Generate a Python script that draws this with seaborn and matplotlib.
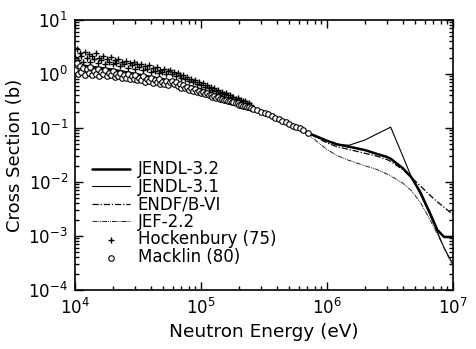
import numpy as np
import pandas as pd
import matplotlib
matplotlib.use("Agg")
import matplotlib.pyplot as plt
import seaborn as sns

# ---- evaluated data (common energy grid, eV) ----
energy_eval = [1e4, 2e4, 5e4, 1e5, 2e5, 4e5, 7e5, 1e6, 1.2e6, 1.5e6, 2e6, 2.5e6,
               3e6, 3.2e6, 4e6, 4.7e6, 5.5e6, 6.5e6, 7.5e6, 8.5e6, 1e7]
jendl32 = [1.5, 1.2, 0.8, 0.52, 0.3, 0.15, 0.082, 0.058, 0.05, 0.045, 0.039, 0.033,
           0.029, 0.027, 0.018, 0.012, 0.0065, 0.0028, 0.0013, 0.00096, 0.00095]
jendl31 = [1.5, 1.2, 0.8, 0.52, 0.3, 0.15, 0.082, 0.057, 0.049, 0.048, 0.06, 0.078,
           0.096, 0.104, 0.03, 0.012, 0.006, 0.0026, 0.0012, 0.0006, 0.00030]
endfb6 = [1.5, 1.2, 0.8, 0.52, 0.3, 0.15, 0.082, 0.053, 0.045, 0.04, 0.034, 0.03,
          0.026, 0.024, 0.017, 0.012, 0.0085, 0.0058, 0.0043, 0.0034, 0.0025]
jef22 = [1.5, 1.2, 0.8, 0.52, 0.3, 0.15, 0.078, 0.04, 0.031, 0.025, 0.02, 0.017,
         0.014, 0.013, 0.0095, 0.0068, 0.0042, 0.0021, 0.0011, 0.0006, 0.00027]

# ---- experimental data (energies in units of 1e4 eV) ----
hock_e4 = [1.00, 1.03, 1.06, 1.09, 1.12, 1.16, 1.20, 1.24, 1.28, 1.32,
           1.36, 1.41, 1.46, 1.51, 1.56, 1.61, 1.67, 1.73, 1.79, 1.85,
           1.92, 1.99, 2.06, 2.13, 2.21, 2.29, 2.37, 2.45, 2.54, 2.63,
           2.72, 2.82, 2.92, 3.02, 3.13, 3.24, 3.36, 3.48, 3.60, 3.73,
           3.86, 4.00, 4.14, 4.29, 4.44, 4.60, 4.76, 4.93, 5.11, 5.29,
           5.48, 5.68, 5.88, 6.09, 6.31, 6.53, 6.76, 7.00, 7.25, 7.51,
           7.78, 8.06, 8.35, 8.65, 8.96, 9.28, 9.61, 9.95, 10.3, 10.7,
           11.1, 11.5, 11.9, 12.3, 12.7, 13.2, 13.7, 14.2, 14.7, 15.2,
           15.7, 16.3, 16.9, 17.5, 18.1, 18.8, 19.5, 20.2, 20.9, 21.6,
           22.4, 23.2, 24.0, 25.0]
hock_xs = [2.1, 2.9, 1.8, 2.5, 2.2, 1.7, 2.6, 2.0, 2.3, 1.7,
           2.2, 1.9, 2.4, 1.6, 2.0, 1.8, 2.2, 1.5, 1.9, 1.7,
           2.1, 1.5, 1.8, 1.6, 1.9, 1.4, 1.7, 1.5, 1.75, 1.3,
           1.6, 1.45, 1.65, 1.25, 1.5, 1.35, 1.55, 1.2, 1.4, 1.25,
           1.45, 1.1, 1.3, 1.15, 1.35, 1.05, 1.2, 1.08, 1.25, 0.98,
           1.15, 1.2, 1.0, 1.1, 0.9, 1.05, 0.95, 0.85, 0.95, 0.8,
           0.88, 0.75, 0.82, 0.7, 0.76, 0.66, 0.72, 0.62, 0.67, 0.58,
           0.62, 0.55, 0.58, 0.51, 0.54, 0.48, 0.5, 0.45, 0.47, 0.42,
           0.44, 0.4, 0.41, 0.37, 0.38, 0.35, 0.36, 0.33, 0.33, 0.31,
           0.31, 0.29, 0.29, 0.27]
mack_e4 = [1.00, 1.03, 1.06, 1.09, 1.12, 1.16, 1.20, 1.24, 1.28, 1.32,
           1.36, 1.41, 1.46, 1.51, 1.56, 1.61, 1.67, 1.73, 1.79, 1.85,
           1.92, 1.99, 2.06, 2.13, 2.21, 2.29, 2.37, 2.45, 2.54, 2.63,
           2.72, 2.82, 2.92, 3.02, 3.13, 3.24, 3.36, 3.48, 3.60, 3.73,
           3.86, 4.00, 4.14, 4.29, 4.44, 4.60, 4.76, 4.93, 5.11, 5.29,
           5.48, 5.68, 5.88, 6.09, 6.31, 6.53, 6.76, 7.00, 7.25, 7.51,
           7.78, 8.06, 8.35, 8.65, 8.96, 9.28, 9.61, 9.95, 10.3, 10.7,
           11.1, 11.5, 11.9, 12.3, 12.7, 13.2, 13.7, 14.2, 14.7, 15.2,
           15.7, 16.3, 16.9, 17.5, 18.1, 18.8, 19.5, 20.2, 20.9, 21.6,
           22.4, 23.2, 24.0, 25.0, 26.0, 28.0, 30.0, 32.0, 34.0, 36.5,
           39.0, 41.5, 44.0, 47.0, 50.0, 53.5, 57.0, 61.0, 65.0, 71.0]
mack_xs = [1.2, 1.6, 1.0, 1.4, 1.1, 1.3, 0.95, 1.25, 1.05, 1.35,
           0.95, 1.15, 1.0, 1.25, 0.92, 1.1, 0.98, 1.2, 0.9, 1.05,
           0.95, 1.12, 0.88, 1.0, 0.9, 1.05, 0.84, 0.95, 0.86, 1.0,
           0.8, 0.9, 0.82, 0.95, 0.76, 0.85, 0.78, 0.9, 0.72, 0.8,
           0.74, 0.84, 0.68, 0.76, 0.7, 0.8, 0.64, 0.72, 0.66, 0.75,
           0.62, 0.7, 0.75, 0.64, 0.7, 0.6, 0.66, 0.56, 0.62, 0.54,
           0.58, 0.51, 0.55, 0.48, 0.52, 0.46, 0.49, 0.44, 0.46, 0.42,
           0.44, 0.4, 0.41, 0.38, 0.39, 0.36, 0.37, 0.345, 0.35, 0.33,
           0.335, 0.315, 0.32, 0.3, 0.3, 0.285, 0.285, 0.27, 0.27, 0.258,
           0.255, 0.245, 0.24, 0.232, 0.225, 0.212, 0.2, 0.19, 0.178, 0.166,
           0.155, 0.145, 0.137, 0.127, 0.118, 0.11, 0.106, 0.1, 0.092, 0.081]
assert len(hock_e4) == len(hock_xs) and len(mack_e4) == len(mack_xs)

x_ticks = [1e4, 1e5, 1e6, 1e7]
x_ticklabels = [r"$10^4$", r"$10^5$", r"$10^6$", r"$10^7$"]
y_ticks = [1e-4, 1e-3, 1e-2, 1e-1, 1e0, 1e1]
y_ticklabels = [r"$10^{-4}$", r"$10^{-3}$", r"$10^{-2}$", r"$10^{-1}$", r"$10^0$", r"$10^1$"]

sns.set_theme(style="ticks")
plt.rcParams["font.family"] = ["DejaVu Sans"]
plt.rcParams["mathtext.fontset"] = "dejavusans"
plt.rcParams["text.color"] = "black"
plt.rcParams["axes.labelcolor"] = "black"

fig = plt.figure(figsize=(4.77, 3.49), dpi=100)
ax = fig.add_axes([75 / 477, 1 - 290 / 349, 378 / 477, 270 / 349])

df = pd.DataFrame({"E": energy_eval, "JENDL-3.2": jendl32, "JENDL-3.1": jendl31,
                   "ENDF/B-VI": endfb6, "JEF-2.2": jef22})
hock = pd.DataFrame({"E": np.array(hock_e4) * 1e4, "xs": hock_xs})
mack = pd.DataFrame({"E": np.array(mack_e4) * 1e4, "xs": mack_xs})

sns.lineplot(data=df, x="E", y="JENDL-3.2", ax=ax, color="black", lw=1.8, label="JENDL-3.2", zorder=3)
sns.lineplot(data=df, x="E", y="JENDL-3.1", ax=ax, color="black", lw=0.8, label="JENDL-3.1", zorder=3)
sns.lineplot(data=df, x="E", y="ENDF/B-VI", ax=ax, color="black", lw=0.9, label="ENDF/B-VI", zorder=3)
sns.lineplot(data=df, x="E", y="JEF-2.2", ax=ax, color="#222222", lw=0.7, label="JEF-2.2", zorder=3)
lines = ax.get_lines()
lines[2].set_dashes((5, 1.5, 1, 1.5))
lines[3].set_dashes((5, 1, 1, 1, 1, 1))

sns.scatterplot(data=hock, x="E", y="xs", ax=ax, marker="+", color="black", s=24,
                linewidth=1.0, label="Hockenbury (75)", zorder=4)
sns.scatterplot(data=mack, x="E", y="xs", ax=ax, marker="o", facecolor="white",
                edgecolor="black", s=16, linewidth=0.8, label="Macklin (80)", zorder=5)

ax.set_xscale("log")
ax.set_yscale("log")
ax.set_xlim(1e4, 1e7)
ax.set_ylim(1e-4, 1e1)
ax.set_xticks(x_ticks)
ax.set_xticklabels(x_ticklabels)
ax.set_yticks(y_ticks)
ax.set_yticklabels(y_ticklabels)
ax.tick_params(which="both", direction="in", top=True, right=True, labelsize=12, width=1,
               colors="black")
ax.tick_params(which="major", length=6)
ax.tick_params(which="minor", length=3)
ax.tick_params(axis="x", which="major", pad=6)
ax.tick_params(axis="y", which="major", pad=5)
ax.set_xlabel("Neutron Energy (eV)", fontsize=13.3, labelpad=3, color="black")
ax.set_ylabel("Cross Section (b)", fontsize=13, labelpad=3, color="black")
for sp in ax.spines.values():
    sp.set_linewidth(1.2)
    sp.set_color("black")

leg = ax.legend(loc="upper left", bbox_to_anchor=(0.045, 0.48), frameon=False,
                fontsize=12, handlelength=2.3, handletextpad=0.45, labelspacing=-0.03,
                borderpad=0, borderaxespad=0, markerscale=1.0, labelcolor="black")

fig.savefig("out.png", dpi=100)
